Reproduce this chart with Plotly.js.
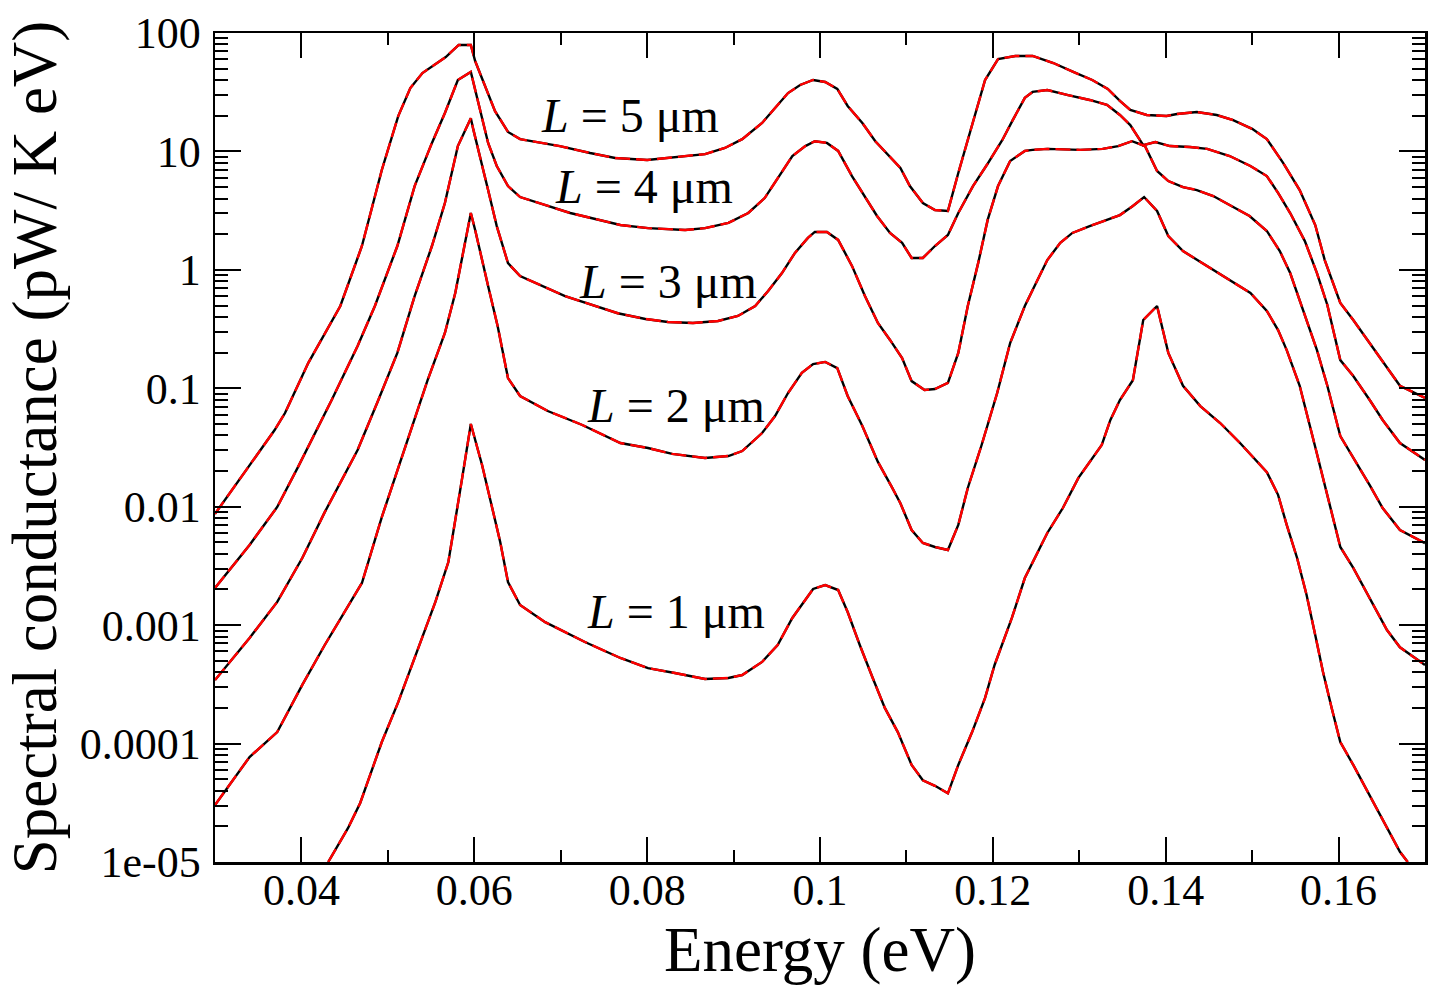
<!DOCTYPE html>
<html>
<head>
<meta charset="utf-8">
<script src="https://cdn.plot.ly/plotly-3.0.1.min.js"></script>
<style>
  html, body { margin: 0; padding: 0; background: #fff; }
  #chart { width: 1445px; height: 989px; }
</style>
</head>
<body>
<div id="chart"></div>
<script>
// Spectral conductance vs. photon energy for several gap sizes L (log scale)

// L = 5 um
const energyL5 = [0.0300,0.0338,0.0369,0.0381,0.0408,0.0445,0.0470,0.0493,0.0512,0.0526,0.0540,0.0567,0.0582,0.0596,0.0601,0.0624,0.0639,0.0653,0.0699,0.0734,0.0763,0.0800,0.0836,0.0867,0.0890,0.0910,0.0933,0.0948,0.0963,0.0977,0.0992,0.1006,0.1020,0.1032,0.1049,0.1064,0.1079,0.1093,0.1104,0.1119,0.1133,0.1148,0.1160,0.1176,0.1191,0.1206,0.1226,0.1246,0.1270,0.1293,0.1315,0.1333,0.1347,0.1359,0.1378,0.1401,0.1413,0.1436,0.1459,0.1478,0.1500,0.1517,0.1536,0.1555,0.1573,0.1584,0.1602,0.1617,0.1636,0.1656,0.1671,0.1700];
const condL5 = [0.0087,0.0216,0.0444,0.0618,0.164,0.495,1.59,6.97,19.9,34.3,45.9,62.7,79.2,79.2,58,21.9,14.6,12.7,11.1,9.7,8.8,8.47,8.97,9.5,10.7,12.7,17.4,23.3,31.1,36.4,40.1,38.6,33.7,24.2,17.4,12.2,9.3,7.25,5.1,3.67,3.2,3.14,6.57,16.4,40.1,60.3,64,64,55.8,46.9,40.1,33.7,26.7,22.4,20.3,19.9,20.7,21.5,20.3,18.4,15.5,12.7,7.98,4.72,2.39,1.21,0.525,0.377,0.241,0.148,0.105,0.083];

// L = 4 um
const energyL4 = [0.0300,0.0340,0.0372,0.0396,0.0435,0.0465,0.0485,0.0511,0.0531,0.0551,0.0566,0.0581,0.0596,0.0599,0.0616,0.0626,0.0639,0.0653,0.0711,0.0769,0.0801,0.0844,0.0867,0.0894,0.0917,0.0936,0.0951,0.0968,0.0983,0.0994,0.1008,0.1021,0.1037,0.1052,0.1066,0.1081,0.1095,0.1106,0.1119,0.1133,0.1148,0.1160,0.1177,0.1193,0.1211,0.1223,0.1237,0.1246,0.1263,0.1287,0.1312,0.1332,0.1347,0.1359,0.1374,0.1388,0.1405,0.1428,0.1448,0.1474,0.1498,0.1517,0.1530,0.1544,0.1561,0.1575,0.1587,0.1602,0.1617,0.1636,0.1651,0.1671,0.1700];
const condL4 = [0.00206,0.00475,0.00995,0.0216,0.0796,0.228,0.495,1.59,5.1,11.8,21.1,40.1,46.9,37.8,11.8,7.53,5.1,4.12,3.02,2.39,2.25,2.17,2.25,2.49,3.02,4.04,5.97,9.15,11.1,12.2,11.8,10.1,6.2,4.2,2.85,2.05,1.69,1.26,1.26,1.59,1.97,3.02,5.1,7.68,12.5,18.4,28.3,31.8,33,29.9,27.2,24.7,20.3,16.7,11.3,12.0,11.1,10.9,10.5,9.15,7.53,6.2,4.46,3.02,1.75,0.94,0.505,0.173,0.127,0.0796,0.054,0.0345,0.0248];

// L = 3 um
const energyL3 = [0.0300,0.0340,0.0372,0.0401,0.0427,0.0448,0.0465,0.0489,0.0511,0.0531,0.0551,0.0566,0.0581,0.0596,0.0599,0.0616,0.0626,0.0639,0.0653,0.0705,0.0766,0.0798,0.0824,0.0853,0.0882,0.0905,0.0925,0.0940,0.0956,0.0971,0.0986,0.0994,0.1008,0.1021,0.1037,0.1052,0.1067,0.1081,0.1095,0.1106,0.1121,0.1133,0.1148,0.1160,0.1171,0.1183,0.1194,0.1206,0.1220,0.1237,0.1246,0.1263,0.1301,0.1327,0.1345,0.1361,0.1376,0.1390,0.1403,0.1420,0.1436,0.1455,0.1474,0.1497,0.1517,0.1532,0.1544,0.1559,0.1575,0.1587,0.1602,0.1636,0.1651,0.1671,0.1700];
const condL3 = [0.000344,0.00078,0.00157,0.00369,0.0090,0.0175,0.0301,0.0796,0.199,0.601,1.59,3.67,11.1,19.1,15.2,4.72,2.34,1.14,0.887,0.60,0.43,0.385,0.363,0.356,0.37,0.408,0.495,0.664,0.94,1.39,1.86,2.09,2.09,1.79,1.08,0.601,0.356,0.256,0.18,0.115,0.0968,0.0985,0.111,0.199,0.495,1.14,2.64,5.1,8.3,10.1,10.3,10.5,10.3,10.5,11.1,12.2,11.1,6.84,5.62,5.0,4.72,4.2,3.53,2.85,2.13,1.44,0.94,0.458,0.21,0.105,0.0395,0.0152,0.00975,0.00636,0.00493];

// L = 2 um
const energyL2 = [0.0300,0.0340,0.0372,0.0401,0.0427,0.0448,0.0470,0.0493,0.0512,0.0546,0.0566,0.0578,0.0596,0.0601,0.0616,0.0627,0.0639,0.0653,0.0685,0.0725,0.0769,0.0801,0.0829,0.0867,0.0894,0.0910,0.0933,0.0948,0.0963,0.0979,0.0992,0.1006,0.1020,0.1032,0.1049,0.1067,0.1083,0.1093,0.1106,0.1119,0.1133,0.1148,0.1160,0.1171,0.1187,0.1205,0.1220,0.1237,0.1246,0.1263,0.1278,0.1292,0.1312,0.1332,0.1347,0.1362,0.1375,0.1390,0.1403,0.1420,0.1455,0.1478,0.1498,0.1517,0.1530,0.1540,0.1555,0.1573,0.1582,0.1592,0.1602,0.1617,0.1636,0.1656,0.1671,0.1700];
const condL2 = [3.03e-5,7.7e-5,1.25e-4,3.13e-4,6.8e-4,0.00122,0.00227,0.00818,0.0212,0.117,0.293,0.638,3.02,2.17,0.731,0.336,0.122,0.0861,0.0643,0.049,0.0345,0.0313,0.0279,0.0258,0.0268,0.0295,0.0419,0.0583,0.0912,0.135,0.16,0.167,0.148,0.0861,0.0481,0.0239,0.0147,0.0107,0.00636,0.00494,0.00457,0.00431,0.00702,0.0144,0.0332,0.0912,0.241,0.495,0.676,1.21,1.69,2.05,2.34,2.64,2.9,3.46,4.12,3.14,1.93,1.44,1.0,0.774,0.638,0.45,0.31,0.21,0.105,0.0319,0.0175,0.009,0.00457,0.00304,0.0017,0.00091,0.00065,0.00046];

// L = 1 um
const energyL1 = [0.0431,0.0454,0.0468,0.0493,0.0512,0.0531,0.0555,0.0570,0.0578,0.0586,0.0596,0.0609,0.0620,0.0630,0.0639,0.0653,0.0682,0.0705,0.0728,0.0769,0.0801,0.0832,0.0867,0.0894,0.0910,0.0933,0.0951,0.0968,0.0983,0.0992,0.1006,0.1021,0.1032,0.1046,0.1061,0.1075,0.1090,0.1106,0.1119,0.1133,0.1148,0.1160,0.1176,0.1191,0.1202,0.1222,0.1237,0.1246,0.1263,0.1281,0.1299,0.1326,0.1336,0.1347,0.1362,0.1374,0.1390,0.1403,0.1420,0.1440,0.1463,0.1486,0.1517,0.1530,0.1540,0.1552,0.1563,0.1573,0.1582,0.1592,0.1602,0.1617,0.1636,0.1656,0.1671,0.1680];
const condL1 = [1.0e-5,1.94e-5,3.15e-5,1.03e-4,2.24e-4,5.28e-4,0.00157,0.00341,0.00743,0.0175,0.0499,0.0225,0.0103,0.00504,0.00231,0.00148,0.00106,8.75e-4,7.21e-4,5.28e-4,4.34e-4,3.94e-4,3.51e-4,3.58e-4,3.79e-4,4.89e-4,6.8e-4,0.00115,0.00163,0.00202,0.00218,0.00198,0.00129,6.8e-4,3.58e-4,2.0e-4,1.25e-4,6.6e-5,4.9e-5,4.4e-5,3.8e-5,6.6e-5,1.25e-4,2.43e-4,4.61e-4,0.00115,0.0025,0.00341,0.006,0.00975,0.0175,0.0332,0.054,0.0796,0.117,0.377,0.495,0.199,0.105,0.0708,0.0509,0.0345,0.0196,0.0126,0.00702,0.00369,0.0018,8.26e-4,4.02e-4,2.0e-4,1.03e-4,6.6e-5,3.68e-5,1.94e-5,1.22e-5,1.0e-5];

// Curve labels
const curveLabels = ['<i>L</i> = 5 μm', '<i>L</i> = 4 μm', '<i>L</i> = 3 μm', '<i>L</i> = 2 μm', '<i>L</i> = 1 μm'];

// Axis ticks
const xTickVals = [0.04, 0.06, 0.08, 0.10, 0.12, 0.14, 0.16];
const xTickText = ['0.04', '0.06', '0.08', '0.1', '0.12', '0.14', '0.16'];
const xMinorVals = [0.03, 0.05, 0.07, 0.09, 0.11, 0.13, 0.15, 0.17];
const yTickVals = [1e-5, 1e-4, 1e-3, 1e-2, 1e-1, 1, 10, 100];
const yTickText = ['1e-05', '0.0001', '0.001', '0.01', '0.1', '1', '10', '100'];
const yMinorVals = [];
for (let e = -5; e < 2; e++) {
  for (let m = 2; m <= 9; m++) yMinorVals.push(m * Math.pow(10, e));
}

const series = [
  [energyL5, condL5],
  [energyL4, condL4],
  [energyL3, condL3],
  [energyL2, condL2],
  [energyL1, condL1]
];

// Each curve: solid black underneath, dashed red on top
const traces = [];
series.forEach(([x, y]) => {
  traces.push({x, y, type: 'scatter', mode: 'lines', hoverinfo: 'skip',
    line: {color: 'black', width: 2.4}});
  traces.push({x, y, type: 'scatter', mode: 'lines', hoverinfo: 'skip',
    line: {color: '#ff0000', width: 2.4, dash: '15px,6px'}});
});

// Label positions in paper fractions
const labelPos = [[0.343, 0.901], [0.3545, 0.815], [0.374, 0.700], [0.381, 0.551], [0.381, 0.302]];

const font = '"Liberation Serif", "Times New Roman", Times, serif';

const layout = {
  width: 1445,
  height: 989,
  margin: {l: 215, r: 20, t: 33, b: 127},
  paper_bgcolor: '#ffffff',
  plot_bgcolor: '#ffffff',
  showlegend: false,
  font: {family: font, color: '#000000'},
  xaxis: {
    range: [0.03, 0.17],
    tickmode: 'array', tickvals: xTickVals, ticktext: xTickText,
    ticks: 'inside', ticklen: 25, tickwidth: 2, tickcolor: '#000',
    minor: {tickmode: 'array', tickvals: xMinorVals, ticks: 'inside', ticklen: 12, tickwidth: 2, tickcolor: '#000', showgrid: false},
    showline: true, linewidth: 2.5, linecolor: '#000', mirror: 'allticks',
    showgrid: false, zeroline: false,
    tickfont: {size: 44, family: font},
    ticklabelstandoff: -12,
    title: {text: 'Energy (eV)', font: {size: 63, family: font}, standoff: 6}
  },
  yaxis: {
    type: 'log',
    range: [-5, 2],
    tickmode: 'array', tickvals: yTickVals, ticktext: yTickText,
    ticks: 'inside', ticklen: 26, tickwidth: 2, tickcolor: '#000',
    minor: {tickmode: 'array', tickvals: yMinorVals, ticks: 'inside', ticklen: 13, tickwidth: 2, tickcolor: '#000', showgrid: false},
    showline: true, linewidth: 2.5, linecolor: '#000', mirror: 'allticks',
    showgrid: false, zeroline: false,
    tickfont: {size: 44, family: font},
    ticklabelstandoff: 3,
    title: {text: 'Spectral conductance (pW/ K eV)', font: {size: 63, family: font}, standoff: 15}
  },
  annotations: curveLabels.map((t, i) => ({
    text: t, xref: 'paper', yref: 'paper',
    x: labelPos[i][0], y: labelPos[i][1],
    xanchor: 'center', yanchor: 'middle', showarrow: false,
    font: {size: 48, family: font, color: '#000'}
  }))
};

Plotly.newPlot('chart', traces, layout, {displayModeBar: false, staticPlot: true});
</script>
</body>
</html>
